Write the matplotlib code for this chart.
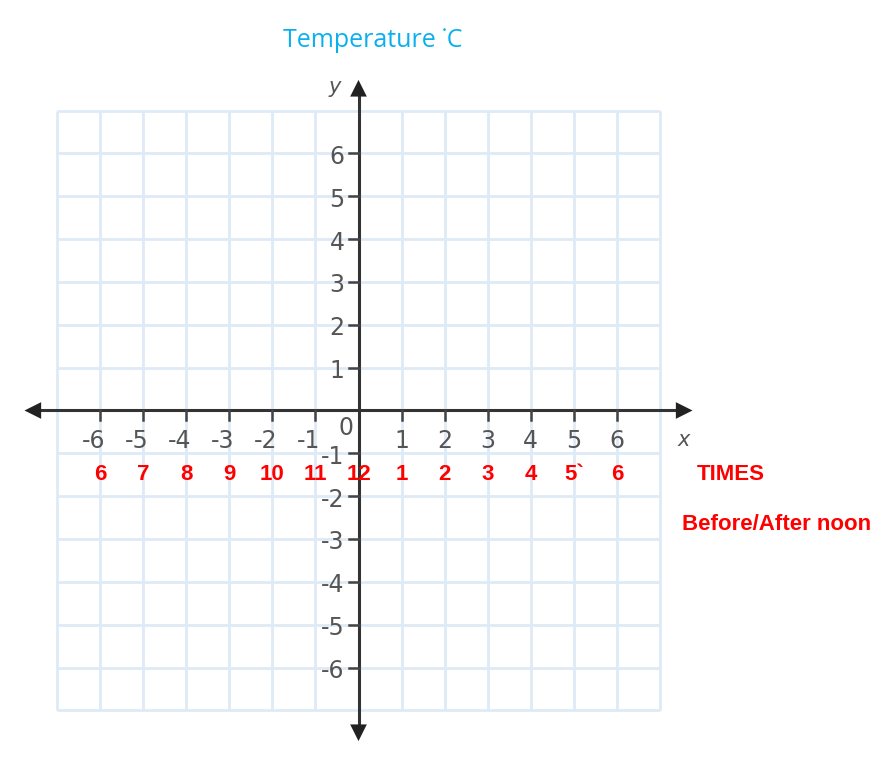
import matplotlib
matplotlib.use("Agg")
import matplotlib.pyplot as plt
import numpy as np

# Data
x_ticks = [-6, -5, -4, -3, -2, -1, 1, 2, 3, 4, 5, 6]
y_ticks = [-6, -5, -4, -3, -2, -1, 1, 2, 3, 4, 5, 6]
time_labels = ["6", "7", "8", "9", "10", "11", "12", "1", "2", "3", "4", "5`", "6"]
time_positions = [-6, -5, -4, -3, -2, -1, 0, 1, 2, 3, 4, 5, 6]
title_text = "Temperature \u02d9C"
legend_times = "TIMES"
legend_noon = "Before/After noon"

W, H = 886, 762
fig = plt.figure(figsize=(W / 100, H / 100), dpi=100)
ax = fig.add_axes([0, 0, 1, 1])
sx, sy = 43.07, 42.85
ox, oy = 358.5, 410.5
ax.set_xlim(-ox / sx, (W - ox) / sx)
ax.set_ylim(-(H - oy) / sy, oy / sy)
ax.axis("off")

grid_c = "#dfeaf7"
for g in range(-7, 8):
    ax.plot([g, g], [-7, 7], color=grid_c, lw=2, zorder=1, solid_capstyle="butt")
    ax.plot([-7, 7], [g, g], color=grid_c, lw=2, zorder=1, solid_capstyle="butt")

axc = "#333333"
ax.plot([-7.45, 7.45], [0, 0], color=axc, lw=2.2, zorder=3)
ax.plot([0, 0], [-7.4, 7.4], color=axc, lw=2.2, zorder=3)
# arrowheads
hs = "-|>,head_length=1.2,head_width=0.6"
ax.annotate("", xy=(7.82, 0), xytext=(7.3, 0),
            arrowprops=dict(arrowstyle=hs, color="#222222", lw=0), zorder=4)
ax.annotate("", xy=(-7.82, 0), xytext=(-7.3, 0),
            arrowprops=dict(arrowstyle=hs, color="#222222", lw=0), zorder=4)
ax.annotate("", xy=(0, 7.78), xytext=(0, 7.25),
            arrowprops=dict(arrowstyle=hs, color="#222222", lw=0), zorder=4)
ax.annotate("", xy=(0, -7.78), xytext=(0, -7.25),
            arrowprops=dict(arrowstyle=hs, color="#222222", lw=0), zorder=4)

tick_c = "#444444"
lab_c = "#555555"
tl = 0.23
fs = 17
for t in x_ticks:
    ax.plot([t, t], [0, -tl], color=tick_c, lw=1.8, zorder=3)
    ax.text(t - (0.15 if t < 0 else 0), -0.72, str(t), ha="center", va="center",
            fontsize=fs, color=lab_c, family="DejaVu Sans")
for t in y_ticks:
    ax.plot([-tl, 0], [t, t], color=tick_c, lw=1.8, zorder=3)
    ax.text(-0.32, t - 0.08, str(t), ha="right", va="center",
            fontsize=fs, color=lab_c, family="DejaVu Sans", zorder=2)
ax.text(-0.3, -0.42, "0", ha="center", va="center", fontsize=fs, color=lab_c,
        family="DejaVu Sans")
ax.text(7.55, -0.68, "x", ha="center", va="center", fontsize=15, color=lab_c,
        style="italic", family="DejaVu Sans")
ax.text(-0.55, 7.55, "y", ha="center", va="center", fontsize=15, color=lab_c,
        style="italic", family="DejaVu Sans")

red = "#ff0000"
for p, s in zip(time_positions, time_labels):
    ax.text(p, -1.49, s, ha="center", va="center", fontsize=16, color=red,
            fontweight="bold", family="Liberation Sans")
ax.text(8.64, -1.49, legend_times, ha="center", va="center", fontsize=16, color=red,
        fontweight="bold", family="Liberation Sans")
ax.text(9.7, -2.67, legend_noon, ha="center", va="center", fontsize=16, color=red,
        fontweight="bold", family="Liberation Sans")
ax.text(0.32, 8.63, title_text, ha="center", va="center", fontsize=18, color="#0ab0ee",
        family="Open Sans")

fig.savefig("out.png", dpi=100)
